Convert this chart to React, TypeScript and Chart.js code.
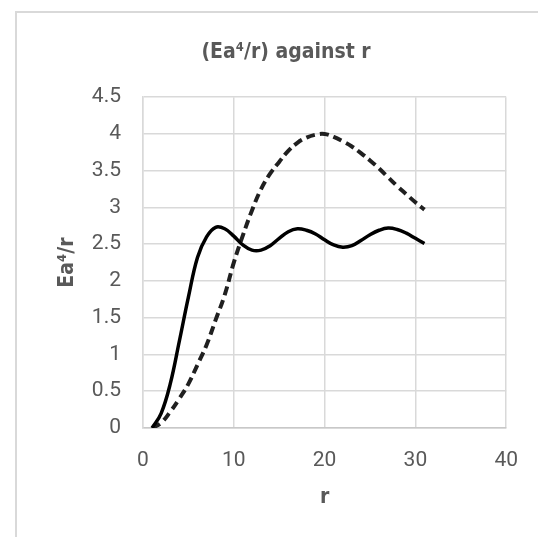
import React, { useEffect, useRef } from "react";
import { Chart, registerables } from "chart.js";

Chart.register(...registerables);

const rValues = [1, 2, 3, 4, 5, 6, 7, 8, 9, 10, 11, 12, 13, 14, 15, 16, 17, 18, 19, 20, 21, 22, 23, 24, 25, 26, 27, 28, 29, 30, 31];
const solidSeries = [0, 0.2, 0.6, 1.18, 1.78, 2.32, 2.6, 2.73, 2.71, 2.61, 2.49, 2.42, 2.42, 2.48, 2.58, 2.67, 2.71, 2.69, 2.64, 2.56, 2.49, 2.46, 2.48, 2.55, 2.63, 2.69, 2.72, 2.7, 2.65, 2.58, 2.51];
const dashedSeries = [0, 0.07, 0.22, 0.4, 0.6, 0.86, 1.13, 1.47, 1.81, 2.25, 2.62, 2.96, 3.25, 3.46, 3.62, 3.77, 3.88, 3.95, 3.99, 4.0, 3.96, 3.9, 3.83, 3.74, 3.64, 3.53, 3.41, 3.29, 3.18, 3.07, 2.97];

const chartTitle = "(Ea\u2074/r) against r";
const xTitle = "r";
const yTitle = "Ea\u2074/r";

const NARROW = '"Liberation Sans Narrow", "DejaVu Sans Condensed", sans-serif';
const TICKFONT = 'Roboto, "Liberation Sans", sans-serif';
const TEXT = "#595959";

const framePlugin = {
  id: "frame",
  beforeDraw(chart: any) {
    const ctx = chart.ctx;
    ctx.save();
    ctx.fillStyle = "#ffffff";
    ctx.fillRect(0, 0, chart.width, chart.height);
    ctx.strokeStyle = "#d9d9d9";
    ctx.lineWidth = 2;
    ctx.beginPath();
    ctx.moveTo(16, chart.height);
    ctx.lineTo(16, 12);
    ctx.lineTo(chart.width, 12);
    ctx.stroke();
    ctx.restore();
  },
};

export default function App() {
  const ref = useRef<HTMLCanvasElement | null>(null);
  useEffect(() => {
    if (!ref.current) return;
    const chart = new Chart(ref.current, {
      type: "line",
      data: {
        datasets: [
          {
            label: "solid",
            data: rValues.map((r, i) => ({ x: r, y: solidSeries[i] })),
            borderColor: "#000000",
            borderWidth: 3.5,
            pointRadius: 0,
            tension: 0.4,
          },
          {
            label: "dashed",
            data: rValues.map((r, i) => ({ x: r, y: dashedSeries[i] })),
            borderColor: "#202020",
            borderWidth: 4,
            borderDash: [9, 5],
            pointRadius: 0,
            tension: 0.4,
          },
        ],
      },
      options: {
        responsive: false,
        animation: false,
        layout: { padding: { left: 34, right: 0, top: 0, bottom: 0 } },
        plugins: {
          legend: { display: false },
          tooltip: { enabled: false },
          title: {
            display: true,
            text: chartTitle,
            color: TEXT,
            font: { family: NARROW, size: 21, weight: "bold" },
            padding: { top: 40, bottom: 32 },
          },
        },
        scales: {
          x: {
            type: "linear",
            min: 0,
            max: 40,
            ticks: { stepSize: 10, color: TEXT, font: { family: TICKFONT, size: 21 }, padding: 20 },
            grid: { color: "#d9d9d9", lineWidth: 1.5, drawTicks: false },
            border: { color: "#c8c8c8", width: 1.5 },
            title: {
              display: true,
              text: xTitle,
              color: TEXT,
              font: { family: NARROW, size: 21, weight: "bold" },
              padding: { top: 0, bottom: 27 },
            },
            afterFit: (s: any) => {
              s.height = 109;
            },
          },
          y: {
            type: "linear",
            min: 0,
            max: 4.5,
            ticks: {
              stepSize: 0.5,
              color: TEXT,
              font: { family: TICKFONT, size: 21 },
              padding: 22,
              callback: (v: any) => String(Math.round(Number(v) * 10) / 10),
            },
            grid: { color: "#d9d9d9", lineWidth: 1.5, drawTicks: false },
            border: { color: "#d9d9d9", width: 1.5 },
            title: {
              display: true,
              text: yTitle,
              color: TEXT,
              font: { family: NARROW, size: 21, weight: "bold" },
              padding: { top: 21, bottom: 0 },
            },
            afterFit: (s: any) => {
              s.width = 109;
            },
          },
          spacer: {
            type: "linear",
            position: "right",
            display: true,
            ticks: { display: false },
            grid: { display: false, drawTicks: false },
            border: { display: false },
            afterFit: (s: any) => {
              s.width = 29;
            },
          },
        },
      },
      plugins: [framePlugin],
    });
    return () => chart.destroy();
  }, []);
  return (
    <div style={{ position: "fixed", left: 0, top: 0, width: 538, height: 537 }}>
      <canvas ref={ref} width={538} height={537} style={{ display: "block" }} />
    </div>
  );
}
